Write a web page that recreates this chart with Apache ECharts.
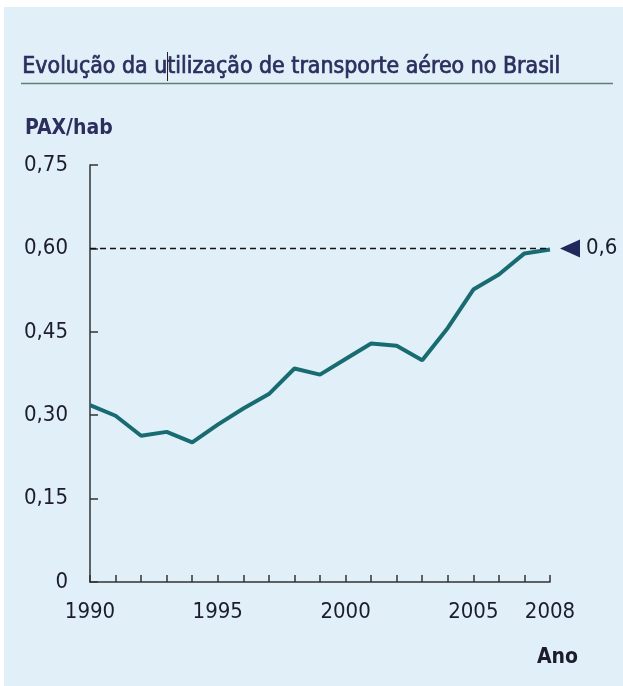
<!DOCTYPE html>
<html>
<head>
<meta charset="utf-8">
<script src="https://cdn.jsdelivr.net/npm/echarts@6/dist/echarts.min.js"></script>
<style>
  html, body { margin: 0; padding: 0; background: #ffffff; }
  #container { width: 623px; height: 686px; }
</style>
</head>
<body>
<div id="container"></div>
<script>
var years = ['1990', '1991', '1992', '1993', '1994', '1995', '1996', '1997', '1998', '1999',
             '2000', '2001', '2002', '2003', '2004', '2005', '2006', '2007', '2008'];
var paxPerHab = [0.318, 0.299, 0.263, 0.270, 0.251, 0.283, 0.312, 0.338, 0.384, 0.373,
                 0.401, 0.429, 0.425, 0.399, 0.457, 0.526, 0.553, 0.591, 0.598];
var shownYears = ['1990', '1995', '2000', '2005', '2008'];
var refValue = 0.6;
var refLabel = '0,6';
var titleText = 'Evolução da utilização de transporte aéreo no Brasil';

var dom = document.getElementById('container');
var myChart = echarts.init(dom, null, { renderer: 'canvas' });

var navy = '#2b2f5e';
var font = "'DejaVu Sans Condensed', 'Liberation Sans Narrow', sans-serif";

// fit the title to its width in the original (x 22 -> 559)
var ctx = document.createElement('canvas').getContext('2d');
ctx.font = "24px 'DejaVu Sans Condensed'";
var titleSize = Math.min(25, 24 * 537 / ctx.measureText(titleText).width);
var titleFont = titleSize.toFixed(1) + "px 'DejaVu Sans Condensed', sans-serif";
ctx.font = titleFont;
// stray cursor mark after "Evolução da u"
var cursorX = Math.round(22 + ctx.measureText('Evolução da u').width) + 0.5;

var option = {
    animation: false,
    graphic: [
        { type: 'rect', shape: { x: 4, y: 7, width: 619, height: 679 }, style: { fill: '#e1eff9' }, z: -10 },
        { type: 'text', left: 22, top: 55, style: { text: titleText, font: titleFont, fill: navy, stroke: navy, lineWidth: 0.7 } },
        { type: 'line', shape: { x1: 21, y1: 83.5, x2: 613, y2: 83.5 }, style: { stroke: '#5a8371', lineWidth: 1.5 } },
        { type: 'line', shape: { x1: cursorX, y1: 52, x2: cursorX, y2: 81 }, style: { stroke: '#222', lineWidth: 1 } },
        { type: 'text', left: 25, top: 118, style: { text: 'PAX/hab', font: "bold 21px 'DejaVu Sans Condensed', sans-serif", fill: navy } },
        { type: 'text', left: 537, top: 647, style: { text: 'Ano', font: "bold 21px 'DejaVu Sans Condensed', sans-serif", fill: '#1c1c2c' } }
    ],
    grid: { left: 90, right: 73, top: 165, bottom: 104 },
    xAxis: {
        type: 'category',
        data: years,
        boundaryGap: false,
        axisLine: { lineStyle: { color: '#333', width: 1.5 } },
        axisTick: { inside: true, length: 7, interval: 0, lineStyle: { color: '#333', width: 1.5 } },
        axisLabel: {
            interval: function (idx, val) { return shownYears.indexOf(val) >= 0; },
            margin: 19,
            fontFamily: font,
            fontSize: 22,
            color: '#1c1c2c'
        },
        splitLine: { show: false }
    },
    yAxis: {
        type: 'value',
        min: 0,
        max: 0.75,
        interval: 0.15,
        axisLine: { show: true, lineStyle: { color: '#333', width: 1.5 } },
        axisTick: { show: true, inside: true, length: 8, lineStyle: { color: '#333', width: 1.5 } },
        axisLabel: {
            margin: 22,
            fontFamily: font,
            fontSize: 22,
            color: '#1c1c2c',
            formatter: function (v) { return v === 0 ? '0' : v.toFixed(2).replace('.', ','); }
        },
        splitLine: { show: false }
    },
    series: [
        {
            type: 'line',
            data: paxPerHab,
            symbol: 'none',
            lineStyle: { color: '#186c71', width: 4 },
            markLine: {
                silent: true,
                symbol: 'none',
                label: { show: false },
                lineStyle: { color: '#111', type: [6, 4], width: 1.3 },
                data: [[{ coord: [years[0], refValue] }, { coord: [years[years.length - 1], refValue] }]]
            },
            markPoint: {
                silent: true,
                symbol: 'triangle',
                symbolSize: [18, 20],
                symbolRotate: 90,
                symbolOffset: [20, 0],
                itemStyle: { color: '#1f2a5a' },
                label: {
                    show: true,
                    position: 'right',
                    distance: 6,
                    formatter: refLabel,
                    fontFamily: font,
                    fontSize: 22,
                    color: '#1c1c2c'
                },
                data: [{ coord: [years[years.length - 1], refValue] }]
            }
        }
    ]
};

myChart.setOption(option);
window.addEventListener('resize', myChart.resize);
</script>
</body>
</html>
